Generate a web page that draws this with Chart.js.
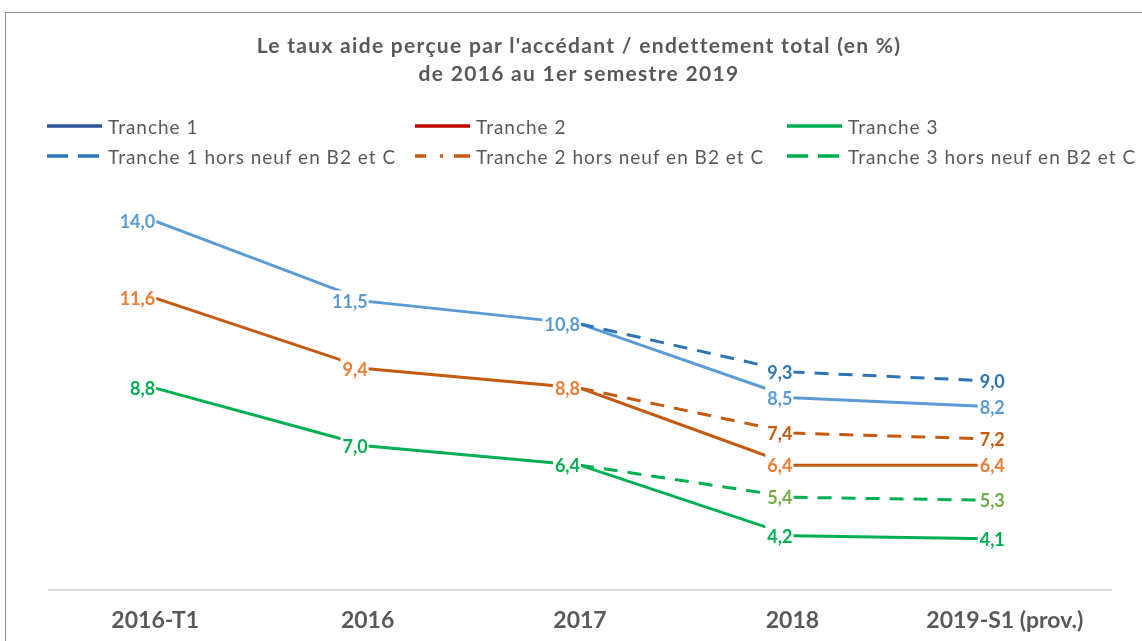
<!DOCTYPE html>
<html lang="fr">
<head>
<meta charset="utf-8">
<title>Taux aide perçue / endettement total</title>
<script src="https://cdn.jsdelivr.net/npm/chart.js@4.4.1/dist/chart.umd.min.js"></script>
<style>
  html, body { margin: 0; padding: 0; background: #ffffff; }
  #wrap { position: relative; width: 1142px; height: 641px; overflow: hidden; }
  #frame {
    position: absolute; left: 5px; top: 12px; width: 1200px; height: 700px;
    border-left: 1px solid #8c8c8c; border-top: 1px solid #8c8c8c;
  }
  #title {
    position: absolute; left: 0; top: 31px; width: 1158px; text-align: center;
    font-family: Lato, "Liberation Sans", sans-serif; font-weight: bold;
    font-size: 21px; line-height: 28px; letter-spacing: 1.3px; color: #595959;
  }
  #legend {
    position: absolute; left: 47px; top: 114px;
    display: grid; grid-template-columns: 368px 372px 380px; row-gap: 6px;
    font-family: Lato, "Liberation Sans", sans-serif; font-size: 19px;
    letter-spacing: 1px; color: #595959;
  }
  .item { display: flex; align-items: center; height: 24px; white-space: nowrap; }
  .item svg { margin-right: 6px; flex-shrink: 0; }
</style>
</head>
<body>
<div id="wrap">
  <div id="frame"></div>
  <canvas id="chart" width="1142" height="641"></canvas>
  <div id="title">Le taux aide perçue par l'accédant / endettement total (en %)<br>de 2016 au 1er semestre 2019</div>
  <div id="legend"></div>
</div>
<script>
/* Taux aide perçue par l'accédant / endettement total, par tranche */

const categories = ['2016-T1', '2016', '2017', '2018', '2019-S1 (prov.)'];

const tranche1 = [14.0, 11.5, 10.8, 8.5, 8.2];
const tranche2 = [11.6, 9.4, 8.8, 6.4, 6.4];
const tranche3 = [8.8, 7.0, 6.4, 4.2, 4.1];

// series "hors neuf en B2 et C" start from the 2017 point
const tranche1HorsNeuf = [null, null, 10.8, 9.3, 9.0];
const tranche2HorsNeuf = [null, null, 8.8, 7.4, 7.2];
const tranche3HorsNeuf = [null, null, 6.4, 5.4, 5.3];

const seriesNames = [
    'Tranche 1', 'Tranche 2', 'Tranche 3',
    'Tranche 1 hors neuf en B2 et C', 'Tranche 2 hors neuf en B2 et C', 'Tranche 3 hors neuf en B2 et C'
];

const FONT = 'Lato, "Liberation Sans", sans-serif';
const GREY = '#595959';

function makeSet(name, data, color, labelColor, dashed) {
    return {
        label: name,
        data: data,
        borderColor: color,
        backgroundColor: color,
        borderWidth: 3,
        borderDash: dashed ? [14, 10] : [],
        pointRadius: 0,
        pointHoverRadius: 0,
        spanGaps: false,
        tension: 0,
        labelColor: labelColor,
        labelFrom: dashed ? 3 : 0
    };
}

const datasets = [
    makeSet(seriesNames[3], tranche1HorsNeuf, '#2E75B6', '#2E75B6', true),
    makeSet(seriesNames[4], tranche2HorsNeuf, '#C55A11', '#C55A11', true),
    makeSet(seriesNames[5], tranche3HorsNeuf, '#00B050', '#70AD47', true),
    makeSet(seriesNames[0], tranche1, '#5B9BD5', '#5B9BD5', false),
    makeSet(seriesNames[1], tranche2, '#C55A11', '#ED7D31', false),
    makeSet(seriesNames[2], tranche3, '#00B050', '#00B050', false)
];

// Data labels: to the left of the point, white box hiding the line
const valueLabels = {
    id: 'valueLabels',
    afterDatasetsDraw(chart) {
        const ctx = chart.ctx;
        ctx.save();
        ctx.font = 'bold 18px ' + FONT;
        ctx.textBaseline = 'middle';
        ctx.textAlign = 'right';
        chart.data.datasets.forEach((ds, i) => {
            const meta = chart.getDatasetMeta(i);
            meta.data.forEach((pt, j) => {
                const v = ds.data[j];
                if (v === null || j < ds.labelFrom) return;
                const txt = v.toFixed(1).replace('.', ',');
                const w = ctx.measureText(txt).width;
                ctx.fillStyle = '#ffffff';
                ctx.fillRect(pt.x - w - 2, pt.y - 11, w + 3, 22);
                ctx.fillStyle = ds.labelColor;
                ctx.fillText(txt, pt.x, pt.y + 1);
            });
        });
        ctx.restore();
    }
};

new Chart(document.getElementById('chart'), {
    type: 'line',
    data: { labels: categories, datasets: datasets },
    options: {
        responsive: false,
        animation: false,
        layout: { padding: { left: 49, right: 31, top: 189, bottom: -9 } },
        plugins: {
            legend: { display: false },
            tooltip: { enabled: false }
        },
        scales: {
            x: {
                offset: true,
                grid: { display: false, drawTicks: false },
                border: { display: true, color: '#D9D9D9', width: 2 },
                ticks: {
                    color: GREY,
                    padding: 16,
                    maxRotation: 0,
                    font: { family: FONT, size: 23, weight: 'bold', lineHeight: 1.2 }
                }
            },
            y: { display: false, min: 2.5, max: 15 }
        }
    },
    plugins: [valueLabels]
});

// HTML legend laid out in three columns like the original
const legendStyles = [
    { color: '#2F5597', dash: '' },
    { color: '#C00000', dash: '' },
    { color: '#00B050', dash: '' },
    { color: '#2E75B6', dash: '21 10' },
    { color: '#C55A11', dash: '11 14 3 11 16' },
    { color: '#00B050', dash: '21 10' }
];

document.getElementById('legend').innerHTML = seriesNames.map((name, i) => {
    const s = legendStyles[i];
    return '<div class="item"><svg width="55" height="6">' +
        '<line x1="0" y1="3" x2="55" y2="3" stroke="' + s.color + '" stroke-width="3.5"' +
        (s.dash ? ' stroke-dasharray="' + s.dash + '"' : '') + '/></svg>' + name + '</div>';
}).join('');
</script>
</body>
</html>
